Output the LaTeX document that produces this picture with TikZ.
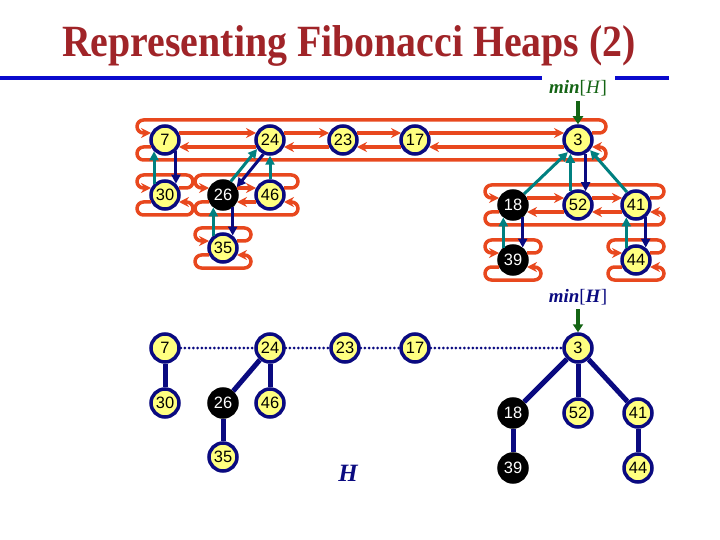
\documentclass[tikz,border=0pt]{standalone}
\usepackage{fontspec}
\usepackage{graphicx}
\setmainfont{Liberation Serif}
\newfontfamily\arialf{Liberation Sans}
\usetikzlibrary{arrows.meta}
\definecolor{ttlc}{RGB}{160,36,40}
\definecolor{bluel}{RGB}{10,10,205}
\definecolor{navyc}{RGB}{10,10,128}
\definecolor{yelc}{RGB}{255,255,128}
\definecolor{orc}{RGB}{232,72,30}
\definecolor{tealc}{RGB}{0,128,128}
\definecolor{grnc}{RGB}{20,100,20}
\newcommand\ringwrap[2]{%
  \draw[orl,rounded corners=6.5bp] ([shift={(14,-7)}]#2.center) -- ([shift={(28,-7)}]#2.center) -- ([shift={(28,-20)}]#2.center) -- ([shift={(-28,-20)}]#1.center) -- ([shift={(-28,-7)}]#1.center) -- ([shift={(-14,-7)}]#1.center);
  \draw[orl,rounded corners=6.5bp] ([shift={(-14,7)}]#1.center) -- ([shift={(-28,7)}]#1.center) -- ([shift={(-28,20)}]#1.center) -- ([shift={(28,20)}]#2.center) -- ([shift={(28,7)}]#2.center) -- ([shift={(14,7)}]#2.center);}
\newcommand\pairlink[2]{%
  \draw[orl] ([shift={(14,-7)}]#1.center) -- ([shift={(-14,-7)}]#2.center);
  \draw[orl] ([shift={(-14,7)}]#2.center) -- ([shift={(14,7)}]#1.center);}
\begin{document}
\begin{tikzpicture}[x=1bp,y=-1bp,
  hn/.style={circle, draw=navyc, line width=3.5bp, fill=yelc, minimum size=28bp, inner sep=0pt, font=\arialf\fontsize{16.5}{16.5}\selectfont},
  bn/.style={hn, draw=black, fill=black, text=white},
  orl/.style={draw=orc, line width=3.5bp, -{Stealth[length=10bp,width=10bp]}},
  tealp/.style={draw=tealc, line width=3bp, -{Triangle[length=9bp,width=9bp]}},
  navyp/.style={draw=navyc, line width=3bp, -{Triangle[length=9bp,width=9bp]}},
  garrow/.style={draw=grnc, line width=3.5bp, -{Triangle[length=8bp,width=10bp]}},
  tedge/.style={draw=navyc, line width=5bp},
  dedge/.style={draw=navyc, line width=3bp, line cap=round, dash pattern=on 0bp off 4.2bp},
  minlab/.style={anchor=base, font=\fontsize{19}{19}\selectfont, inner sep=0pt}
]
\useasboundingbox (0,0) rectangle (720,540);
% title
\node[anchor=base, text=ttlc, font=\bfseries\fontsize{40}{40}\selectfont, inner sep=0pt] (title) at (349,57) {\scalebox{1}[1.12]{Representing Fibonacci Heaps (2)}};
\draw[draw=bluel, line width=4.5bp] (0,78) -- (542,78);
\draw[draw=bluel, line width=4.5bp] (615,78) -- (669,78);
% ---------- top figure ----------
\node[hn] (a7) at (165,140) {7};
\node[hn] (a24) at (270,140) {24};
\node[hn] (a23) at (343,140) {23};
\node[hn] (a17) at (415,140) {17};
\node[hn] (a3) at (578,140) {3};
\node[hn] (a30) at (165,195) {30};
\node[bn] (a26) at (223,195) {26};
\node[hn] (a46) at (270,195) {46};
\node[hn] (a35) at (223,248) {35};
\node[bn] (a18) at (513,205) {18};
\node[hn] (a52) at (578,205) {52};
\node[hn] (a41) at (636,205) {41};
\node[bn] (a39) at (513,260) {39};
\node[hn] (a44) at (636,260) {44};
% sibling lists
\ringwrap{a7}{a3}
\pairlink{a7}{a24}
\pairlink{a24}{a23}
\pairlink{a23}{a17}
\pairlink{a17}{a3}
\ringwrap{a30}{a30}
\ringwrap{a26}{a46}
\pairlink{a26}{a46}
\ringwrap{a35}{a35}
\ringwrap{a18}{a41}
\pairlink{a18}{a52}
\pairlink{a52}{a41}
\ringwrap{a39}{a39}
\ringwrap{a44}{a44}
% parent / child pointers
\draw[tealp] (a30.134) -- (a7.226);
\draw[navyp] (a7.314) -- (a30.46);
\draw[tealp] (a26.60) -- (a24.215);
\draw[navyp] (a24.245) -- (a26.30);
\draw[tealp] (a46.north) -- (a24.south);
\draw[tealp] (a35.128) -- (a26.232);
\draw[navyp] (a26.308) -- (a35.52);
\draw[tealp] (a18.45) -- (a3.230);
\draw[tealp] (a52.119) -- (a3.241);
\draw[navyp] (a3.299) -- (a52.61);
\draw[tealp] (a41.125) -- (a3.-40);
\draw[tealp] (a39.128) -- (a18.232);
\draw[navyp] (a18.308) -- (a39.52);
\draw[tealp] (a44.128) -- (a41.232);
\draw[navyp] (a41.308) -- (a44.52);
% min pointer
\node[minlab, text=grnc] (minA) at (578,94) {\textbf{\textit{min}}[\textit{H}]};
\coordinate (gA) at (578,101);
\draw[garrow] (gA) -- (a3);
% ---------- bottom figure ----------
\node[hn] (b7) at (165,348) {7};
\node[hn] (b24) at (270,348) {24};
\node[hn] (b23) at (345,348) {23};
\node[hn] (b17) at (415,348) {17};
\node[hn] (b3) at (578,348) {3};
\node[hn] (b30) at (165,403) {30};
\node[bn] (b26) at (223,403) {26};
\node[hn] (b46) at (270,403) {46};
\node[hn] (b35) at (223,457) {35};
\node[bn] (b18) at (513,413) {18};
\node[hn] (b52) at (578,413) {52};
\node[hn] (b41) at (638,413) {41};
\node[bn] (b39) at (513,468) {39};
\node[hn] (b44) at (638,468) {44};
\draw[dedge] (b7) -- (b24);
\draw[dedge] (b24) -- (b23);
\draw[dedge] (b23) -- (b17);
\draw[dedge] (b17) -- (b3);
\draw[tedge] (b7) -- (b30);
\draw[tedge] (b24) -- (b26);
\draw[tedge] (b24) -- (b46);
\draw[tedge] (b26) -- (b35);
\draw[tedge] (b3) -- (b18);
\draw[tedge] (b3) -- (b52);
\draw[tedge] (b3) -- (b41);
\draw[tedge] (b18) -- (b39);
\draw[tedge] (b41) -- (b44);
\node[minlab, text=navyc] (minB) at (578,302) {\textbf{\textit{min}}[\textbf{\textit{H}}]};
\coordinate (gB) at (578,309);
\draw[garrow] (gB) -- (b3);
\node[anchor=base, text=navyc, font=\bfseries\itshape\fontsize{25}{25}\selectfont, inner sep=0pt] (hlab) at (348,481) {H};
\end{tikzpicture}
\end{document}
